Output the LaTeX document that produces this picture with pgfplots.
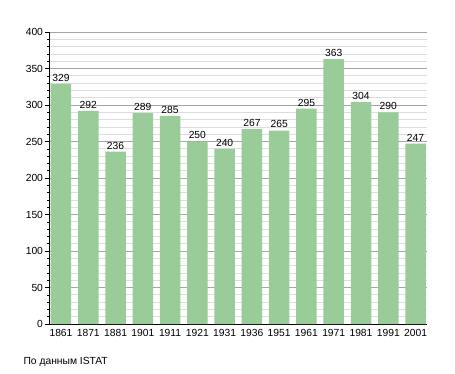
\documentclass[border=0pt]{standalone}
\usepackage{pgfplots}
\pgfplotsset{compat=1.18}
\usepackage{fontspec}
\setmainfont{Liberation Sans}
\definecolor{barg}{RGB}{153,204,153}
\definecolor{majg}{RGB}{165,165,165}
\definecolor{ming}{RGB}{221,221,221}
\begin{document}
\begin{tikzpicture}
\path[use as bounding box] (0,0) rectangle (455pt,373pt);
\begin{axis}[
  at={(50pt,49pt)}, anchor=south west,
  scale only axis, width=377pt, height=292pt,
  xmin=-0.403, xmax=13.42, ymin=0, ymax=400,
  axis x line=bottom, axis y line=left,
  axis line style={-, black, line width=1pt},
  x axis line style={shorten <=-5pt},
  xtick=data,
  xticklabels={1861,1871,1881,1901,1911,1921,1931,1936,1951,1961,1971,1981,1991,2001},
  x tick style={draw=none},
  xticklabel style={yshift=3pt},
  yticklabel style={xshift=1.5pt},
  ytick={0,50,...,400},
  minor y tick num=4,
  tick align=outside,
  major tick length=5pt, minor tick length=2.5pt,
  y tick style={black, line width=0.6pt},
  ymajorgrids, yminorgrids,
  major grid style={majg, line width=0.8pt},
  minor grid style={ming, line width=0.8pt},
  tick label style={font=\fontsize{10.3}{12}\selectfont, black},
  /pgf/number format/assume math mode=true,
  every node near coord/.append style={font=\fontsize{10.3}{12}\selectfont, black, yshift=-1pt},
  clip=false,
]
\addplot[ybar, bar width=20.5pt, fill=barg, draw=none, nodes near coords] coordinates {
(0,329) (1,292) (2,236) (3,289) (4,285) (5,250) (6,240) (7,267) (8,265) (9,295) (10,363) (11,304) (12,290) (13,247)
};
\end{axis}
\node[anchor=base west, font=\fontsize{10.3}{12}\selectfont] at (20pt,9pt) {По данным ISTAT};
\end{tikzpicture}
\end{document}
